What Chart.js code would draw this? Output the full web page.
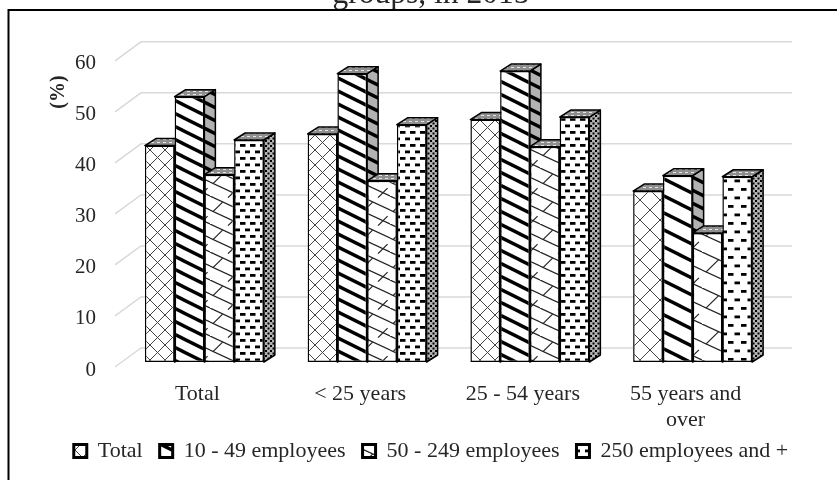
<!DOCTYPE html>
<html>
<head>
<meta charset="utf-8">
<script src="https://cdn.jsdelivr.net/npm/chart.js@4"></script>
<style>
    html, body { margin: 0; padding: 0; background: #ffffff; overflow: hidden; }
    #wrap { width: 837px; height: 480px; }
</style>
</head>
<body>
<div id="wrap"><canvas id="chart" width="837" height="480"></canvas></div>
<script>
const categories = ['Total', '< 25 years', '25 - 54 years', ['55 years and', 'over']];
const seriesNames = ['Total', '10 - 49 employees', '50 - 249 employees', '250 employees and +'];
const totalValues = [42.4, 44.7, 47.5, 33.5];
const smallValues = [52.0, 56.5, 57.0, 36.5];
const mediumValues = [36.7, 35.5, 42.2, 25.3];
const largeValues = [43.5, 46.5, 48.0, 36.3];
const yTicks = [0, 10, 20, 30, 40, 50, 60];

const serif = '"Liberation Serif", "Times New Roman", serif';
const textColor = '#262626';
const gridColor = '#d9d9d9';

// Depth of the fake 3D look, in pixels
const barDepth = { x: 11, y: -7 };
const wallDepth = { front: 5, back: -14 };

// Tile drawing for each hatch
function makeTile(w, h, draw) {
    const c = document.createElement('canvas');
    c.width = w;
    c.height = h;
    const g = c.getContext('2d');
    g.fillStyle = '#ffffff';
    g.fillRect(0, 0, w, h);
    g.strokeStyle = '#000000';
    g.fillStyle = '#000000';
    draw(g, w, h);
    return g.createPattern(c, 'repeat');
}

function seg(g, x1, y1, x2, y2) {
    g.beginPath();
    g.moveTo(x1, y1);
    g.lineTo(x2, y2);
    g.stroke();
}

function latticePattern(s) {
    const w = Math.round(15 * s), h = Math.round(15 * s);
    return makeTile(w, h, (g) => {
        g.strokeStyle = '#444444';
        g.lineWidth = 1;
        seg(g, 0, 0, w, h);
        seg(g, 0, h, w, 0);
    });
}

function stripePattern(s) {
    const w = Math.round(26 * s), h = Math.round(13 * s);
    return makeTile(w, h, (g) => {
        g.lineWidth = 3.4;
        seg(g, -w, -h, w * 2, h * 2);
        seg(g, -w, 0, w, h * 2);
        seg(g, 0, -h, w * 2, h);
    });
}

function shinglePattern(s) {
    const w = Math.round(30 * s), h = Math.round(28 * s);
    return makeTile(w, h, (g) => {
        g.strokeStyle = '#222222';
        g.lineWidth = 1.2;
        seg(g, 0, 0, w, h / 2);
        seg(g, 0, h / 2, w, h);
        seg(g, 0, -h / 2, w, 0);
        seg(g, w * 0.1, h * 0.56, w * 0.42, h * 0.22);
        seg(g, w * 0.6, h * 1.06, w * 0.92, h * 0.72);
        seg(g, w * 0.6, h * 0.06, w * 0.92, -h * 0.28);
    });
}

function brickPattern(s) {
    const w = Math.round(10 * s), h = Math.round(13 * s);
    return makeTile(w, h, (g) => {
        const dw = 5.5, dh = 2.8;
        g.fillRect(0, 1, dw, dh);
        g.fillRect(w / 2, h / 2 + 1, dw, dh);
    });
}

function dotPattern() {
    return makeTile(5, 5, (g) => {
        g.fillRect(0, 0, 2, 2);
        g.fillRect(2.5, 2.5, 2, 2);
    });
}

// Fourth category uses a wider hatch in the reference
function perCategory(make) {
    return [make(1), make(1), make(1), make(1.3)];
}

const faceFills = [
    perCategory(latticePattern),
    perCategory(stripePattern),
    perCategory(shinglePattern),
    perCategory(brickPattern)
];
const sideFills = [latticePattern(0.6), stripePattern(1), shinglePattern(0.6), dotPattern()];
const topFill = makeTile(6, 3, (g) => {
    g.fillStyle = '#8f8f8f';
    g.fillRect(0, 0, 6, 3);
    g.fillStyle = '#e6e6e6';
    g.fillRect(1, 1, 3, 1);
});

function fillPoly(ctx, pts, fill, shade) {
    ctx.beginPath();
    pts.forEach((p, i) => (i ? ctx.lineTo(p[0], p[1]) : ctx.moveTo(p[0], p[1])));
    ctx.closePath();
    ctx.fillStyle = fill;
    ctx.fill();
    if (shade) {
        ctx.fillStyle = shade;
        ctx.fill();
    }
    ctx.stroke();
}

// Chart.js paints the last dataset first, here each bar has to hide the side of the one before it
const boxFaces = {
    id: 'boxFaces',
    afterLayout(chart) {
        // second line of the last category label would be clipped at the axis box
        chart.scales.x.bottom += 16;
    },
    beforeDatasetDraw() {
        return false;
    },
    afterDatasetsDraw(chart) {
        const ctx = chart.ctx;
        seriesNames.forEach((name, i) => {
            const meta = chart.getDatasetMeta(i);
            meta.controller.draw();
            ctx.save();
            ctx.strokeStyle = '#000000';
            ctx.lineWidth = 1.5;
            ctx.lineJoin = 'round';
            meta.data.forEach((bar) => {
                const left = bar.x - bar.width / 2;
                const right = bar.x + bar.width / 2;
                const dx = barDepth.x, dy = barDepth.y;
                fillPoly(ctx, [[right, bar.y], [right + dx, bar.y + dy], [right + dx, bar.base + dy], [right, bar.base]],
                    sideFills[i], 'rgba(0,0,0,0.3)');
                fillPoly(ctx, [[left, bar.y], [left + dx, bar.y + dy], [right + dx, bar.y + dy], [right, bar.y]], topFill);
            });
            ctx.restore();
        });
    }
};

const backWall = {
    id: 'backWall',
    beforeDatasetsDraw(chart) {
        const ctx = chart.ctx;
        const y = chart.scales.y;
        ctx.save();
        // keep the cut-off title above the frame line
        ctx.fillStyle = '#ffffff';
        ctx.fillRect(10, 10, 827, 14);
        ctx.strokeStyle = gridColor;
        ctx.lineWidth = 1.5;
        yTicks.forEach((t) => {
            const py = y.getPixelForValue(t);
            ctx.beginPath();
            ctx.moveTo(115, py + wallDepth.front);
            ctx.lineTo(141, py + wallDepth.back);
            ctx.lineTo(792, py + wallDepth.back);
            ctx.stroke();
        });
        ctx.restore();
    }
};

const pageFrame = {
    id: 'pageFrame',
    afterDraw(chart) {
        const ctx = chart.ctx;
        ctx.save();
        ctx.strokeStyle = '#000000';
        ctx.lineWidth = 2;
        ctx.beginPath();
        ctx.moveTo(8.5, 480);
        ctx.lineTo(8.5, 10);
        ctx.lineTo(837, 10);
        ctx.stroke();
        // rotated unit label
        ctx.translate(59, 92);
        ctx.rotate(-Math.PI / 2);
        ctx.fillStyle = textColor;
        ctx.font = 'bold 20px ' + serif;
        ctx.textAlign = 'center';
        ctx.textBaseline = 'middle';
        ctx.fillText('(%)', 0, 0);
        ctx.restore();
    }
};

function makeDataset(i, values) {
    return {
        label: seriesNames[i],
        data: values,
        backgroundColor: faceFills[i],
        borderColor: '#000000',
        borderWidth: 1.5,
        borderSkipped: false
    };
}

new Chart(document.getElementById('chart'), {
    type: 'bar',
    data: {
        labels: categories,
        datasets: [
            makeDataset(0, totalValues),
            makeDataset(1, smallValues),
            makeDataset(2, mediumValues),
            makeDataset(3, largeValues)
        ]
    },
    plugins: [backWall, boxFaces, pageFrame],
    options: {
        responsive: false,
        animation: false,
        devicePixelRatio: 1,
        categoryPercentage: 0.731,
        barPercentage: 1,
        layout: { padding: { top: 55, left: 25, right: 0, bottom: 8 } },
        scales: {
            x: {
                grid: { display: false, drawTicks: false },
                border: { display: false },
                afterFit(scale) { scale.height = 61; },
                ticks: {
                    color: textColor,
                    font: { family: serif, size: 22, lineHeight: 1.15 },
                    padding: 20,
                    labelOffset: -7,
                    maxRotation: 0,
                    autoSkip: false
                }
            },
            y: {
                min: 0,
                max: 60,
                grid: { display: false, drawTicks: false },
                border: { display: false },
                afterFit(scale) { scale.width = 98; },
                ticks: {
                    stepSize: 10,
                    color: textColor,
                    font: { family: serif, size: 21 },
                    padding: 27,
                    labelOffset: 8
                }
            },
            // empty axis, only keeps room right of the plot so the legend can stay centred on the page
            spacer: {
                type: 'linear',
                position: 'right',
                grid: { display: false, drawTicks: false },
                border: { display: false },
                ticks: { display: false },
                afterFit(scale) { scale.width = 63; }
            }
        },
        plugins: {
            tooltip: { enabled: false },
            title: {
                display: true,
                text: 'groups, in 2015',
                color: textColor,
                font: { family: serif, size: 31.5, weight: 'normal' },
                padding: { top: -79, bottom: 42 }
            },
            legend: {
                position: 'bottom',
                labels: {
                    color: textColor,
                    font: { family: serif, size: 22 },
                    boxWidth: 13,
                    boxHeight: 13,
                    padding: 17,
                    generateLabels() {
                        return seriesNames.map((name, i) => ({
                            text: name,
                            fontColor: textColor,
                            fillStyle: faceFills[i][0],
                            strokeStyle: '#000000',
                            lineWidth: 3,
                            datasetIndex: i
                        }));
                    }
                }
            }
        }
    }
});
</script>
</body>
</html>
